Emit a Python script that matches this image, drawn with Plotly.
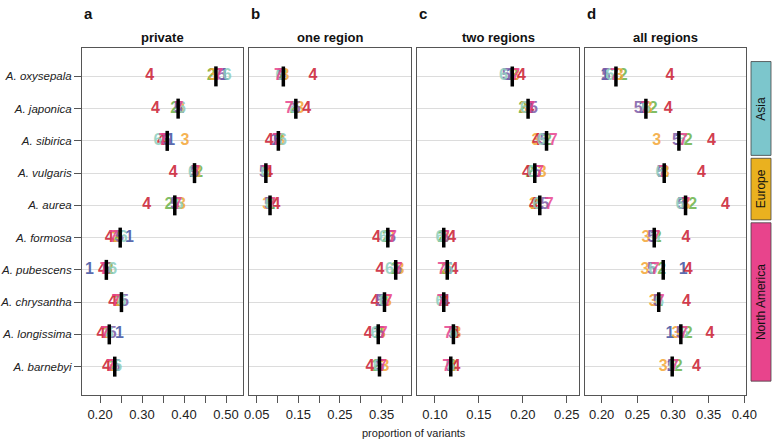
import plotly.graph_objects as go

W, H = 773, 442

species = ["A. oxysepala", "A. japonica", "A. sibirica", "A. vulgaris", "A. aurea",
           "A. formosa", "A. pubescens", "A. chrysantha", "A. longissima", "A. barnebyi"]
groups = ["1", "2", "3", "4", "5", "6", "7"]
group_colors = ["rgba(61,79,160,0.85)", "rgba(106,178,72,0.85)", "rgba(244,166,52,0.85)",
                "rgba(204,36,56,0.9)", "rgba(124,90,166,0.85)", "rgba(140,206,190,0.85)",
                "rgba(232,67,142,0.85)"]

panel_letters = ["a", "b", "c", "d"]
panel_titles = ["private", "one region", "two regions", "all regions"]

# one row per species, values for groups 1..7
private = [
    [.496, .465, .468, .318, .490, .503, .482],
    [.390, .378, .392, .332, .386, .394, .388],
    [.368, .356, .402, .346, .358, .338, .350],
    [.422, .435, .430, .374, .425, .420, .428],
    [.380, .364, .394, .311, .378, .388, .385],
    [.270, .240, .238, .222, .246, .255, .232],
    [.175, .222, .220, .206, .216, .230, .210],
    [.250, .245, .240, .230, .258, .252, .238],
    [.246, .218, .215, .202, .229, .222, .212],
    [.236, .232, .228, .215, .238, .242, .226],
]
one_region = [
    [.108, .112, .118, .185, .110, .106, .102],
    [.142, .140, .154, .170, .145, .138, .128],
    [.094, .104, .108, .080, .100, .112, .098],
    [.072, .074, .076, .078, .066, .070, .072],
    [.082, .084, .074, .096, .078, .080, .086],
    [.366, .362, .372, .338, .374, .354, .376],
    [.386, .382, .394, .346, .388, .369, .390],
    [.352, .356, .364, .334, .346, .354, .366],
    [.340, .344, .350, .318, .346, .334, .354],
    [.344, .337, .358, .322, .346, .340, .352],
]
two_regions = [
    [.186, .190, .192, .1985, .181, .178, .192],
    [.206, .200, .201, .208, .212, .202, .209],
    [.226, .228, .215, .2156, .224, .221, .2345],
    [.214, .208, .222, .204, .216, .210, .219],
    [.218, .214, .212, .212, .225, .216, .230],
    [.110, .108, .112, .119, .111, .1057, .112],
    [.114, .112, .113, .1216, .115, .116, .1076],
    [.110, .109, .111, .112, .110, .1057, .107],
    [.121, .122, .125, .123, .120, .121, .1151],
    [.118, .119, .120, .124, .117, .118, .1133],
]
all_regions = [
    [.2046, .2303, .2247, .2957, .206, .2116, .218],
    [.258, .2723, .265, .2933, .2513, .262, .2606],
    [.308, .3213, .277, .354, .305, .312, .3143],
    [.284, .288, .289, .340, .283, .2817, .286],
    [.314, .3275, .318, .3737, .312, .3097, .318],
    [.274, .278, .262, .318, .270, .276, .276],
    [.3143, .284, .2607, .3213, .2697, .272, .275],
    [.279, .280, .2723, .319, .278, .281, .282],
    [.2957, .3213, .304, .3517, .310, .316, .315],
    [.297, .3073, .2863, .333, .298, .300, .302],
]

# black bars (central value per species)
private_mid = [.476, .386, .360, .425, .378, .248, .215, .251, .222, .235]
one_region_mid = [.114, .144, .102, .072, .082, .365, .384, .357, .342, .345]
two_regions_mid = [.188, .206, .227, .2136, .2193, .110, .114, .110, .121, .118]
all_regions_mid = [.220, .262, .3083, .2877, .3176, .2737, .2863, .280, .311, .2989]

regions = ["Asia", "Europe", "North America"]
region_rows = [(1, 3), (4, 5), (6, 10)]
region_colors = ["#7cc6cc", "#eab11f", "#e8448c"]

panels = [private, one_region, two_regions, all_regions]
mids = [private_mid, one_region_mid, two_regions_mid, all_regions_mid]
x_ranges = [[0.157, 0.5405], [0.0322, 0.420], [0.0799, 0.2636], [0.1766, 0.4028]]
x_ticks = [[0.20, 0.25, 0.30, 0.35, 0.40, 0.45, 0.50],
           [0.05, 0.10, 0.15, 0.20, 0.25, 0.30, 0.35, 0.40],
           [0.10, 0.15, 0.20, 0.25],
           [0.20, 0.25, 0.30, 0.35, 0.40]]
x_ticklabels = [["0.20", "", "0.30", "", "0.40", "", "0.50"],
                ["0.05", "", "0.15", "", "0.25", "", "0.35", ""],
                ["0.10", "0.15", "0.20", "0.25"],
                ["0.20", "0.25", "0.30", "0.35", "0.40"]]
px_domains = [(82, 243), (249.3, 410.7), (417.3, 578.7), (585, 746.3)]
y_top, y_bot = 48, 395

rows = list(range(1, len(species) + 1))

fig = go.Figure()
layout = {}
for p in range(4):
    sfx = "" if p == 0 else str(p + 1)
    xa, ya = "x" + sfx, "y" + sfx
    data = panels[p]
    for g in range(7):
        fig.add_trace(go.Scatter(
            x=[r[g] for r in data], y=rows, mode="text", text=[groups[g]] * len(rows),
            textposition="middle center",
            textfont=dict(family="Liberation Sans", size=16, color=group_colors[g], weight="bold"),
            xaxis=xa, yaxis=ya, showlegend=False, cliponaxis=False, hoverinfo="skip"))
    bx, by = [], []
    for i, m in enumerate(mids[p]):
        bx += [m, m, None]
        by += [rows[i] - 0.31, rows[i] + 0.31, None]
    fig.add_trace(go.Scatter(x=bx, y=by, mode="lines", line=dict(color="black", width=3.5),
                             xaxis=xa, yaxis=ya, showlegend=False, hoverinfo="skip"))

    d0, d1 = px_domains[p]
    layout["xaxis" + sfx] = dict(
        domain=[d0 / W, d1 / W], range=x_ranges[p], anchor=ya, automargin=False,
        tickvals=x_ticks[p], ticktext=x_ticklabels[p], ticks="outside", ticklen=7,
        tickcolor="#555", showgrid=False, zeroline=False, showline=True, mirror=True,
        linecolor="#555", linewidth=1, tickfont=dict(size=13, color="#222"))
    layout["yaxis" + sfx] = dict(
        domain=[1 - y_bot / H, 1 - y_top / H], range=[10.88, 0.12], anchor=xa, automargin=False,
        tickvals=rows, ticktext=["<i>%s</i>" % s for s in species] if p == 0 else [],
        showticklabels=(p == 0), ticks="outside" if p == 0 else "", ticklen=7, tickcolor="#555",
        showgrid=True, gridcolor="#dcdcdc", gridwidth=1, zeroline=False,
        showline=True, mirror=True, linecolor="#555", linewidth=1,
        tickfont=dict(size=11.5, color="#222"))

fig.update_layout(**layout)

annotations = []
for p in range(4):
    d0, d1 = px_domains[p]
    annotations.append(dict(text="<b>%s</b>" % panel_letters[p], x=d0 / W, y=1 - 13 / H,
                            xref="paper", yref="paper", xanchor="left", yanchor="middle",
                            showarrow=False, font=dict(size=15, color="#111")))
    annotations.append(dict(text="<b>%s</b>" % panel_titles[p], x=(d0 + d1) / 2 / W, y=1 - 37 / H,
                            xref="paper", yref="paper", xanchor="center", yanchor="middle",
                            showarrow=False, font=dict(size=13, color="#111")))
annotations.append(dict(text="proportion of variants", x=414 / W, y=1 - 433 / H,
                        xref="paper", yref="paper", xanchor="center", yanchor="middle",
                        showarrow=False, font=dict(size=11, color="#222")))

shapes = []
for k, reg in enumerate(regions):
    r0, r1 = region_rows[k]
    shapes.append(dict(type="rect", xref="paper", yref="y4", x0=751 / W, x1=771 / W,
                       y0=r0 - 0.46, y1=r1 + 0.45, fillcolor=region_colors[k],
                       line=dict(color="#444", width=0.8)))
    annotations.append(dict(text=reg, x=761 / W, y=(r0 + r1) / 2, xref="paper", yref="y4",
                            xanchor="center", yanchor="middle", textangle=-90, showarrow=False,
                            font=dict(size=12, color="#111")))

fig.update_layout(
    width=W, height=H, margin=dict(l=0, r=0, t=0, b=0),
    paper_bgcolor="white", plot_bgcolor="white",
    font=dict(family="Liberation Sans"),
    annotations=annotations, shapes=shapes)

# drop the page's default body margin so the figure sits at the window corner
fig.write_html("out.html", config={"displayModeBar": False},
               post_script="document.body.style.margin='0';")
